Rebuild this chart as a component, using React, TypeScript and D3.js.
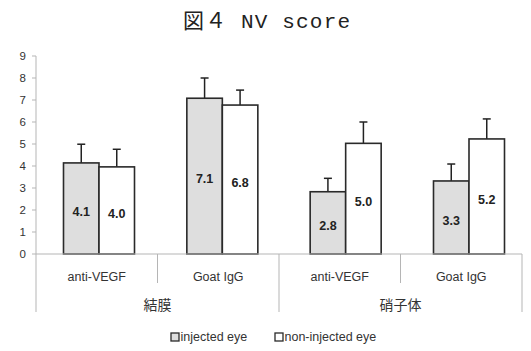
import React from "react";
import * as d3 from "d3";

const subCategories = ["anti-VEGF", "Goat IgG", "anti-VEGF", "Goat IgG"];
const groups = ["結膜", "硝子体"];
const series = ["injected eye", "non-injected eye"];
const injected = [4.14, 7.08, 2.83, 3.32];
const nonInjected = [3.96, 6.77, 5.03, 5.23];
const injectedErr = [0.85, 0.92, 0.61, 0.77];
const nonInjectedErr = [0.8, 0.68, 0.97, 0.91];
const yTicks = [0, 1, 2, 3, 4, 5, 6, 7, 8, 9];

const W = 531;
const H = 351;
const FONT = "'Liberation Sans', Arial, sans-serif";

export default function App() {
  const y = d3.scaleLinear().domain([0, 9]).range([254, 56]);
  const xAxis = d3.scaleBand<number>().domain([0, 1, 2, 3]).range([36, 522]);
  const xBars = d3.scalePoint<number>().domain([0, 1, 2, 3]).range([99, 469]);
  const barW = 35.5;
  const fmt = d3.format(".1f");
  const fills = ["#dedede", "#ffffff"];
  const seriesVals = [injected, nonInjected];
  const seriesErr = [injectedErr, nonInjectedErr];

  return (
    <svg width={W} height={H} style={{ position: "absolute", left: 0, top: 0 }}>
      <rect width={W} height={H} fill="#fff" />
      <text
        x={183}
        y={28}
        textLength={167}
        lengthAdjust="spacing"
        fontSize={21}
        fontFamily="'Liberation Mono', 'Noto Sans CJK JP', monospace"
        fill="#222"
      >
        図４ NV score
      </text>
      {/* y axis */}
      <line x1={36} x2={36} y1={y(9)} y2={y(0)} stroke="#b5b5b5" strokeWidth={1} />
      {yTicks.map((t) => (
        <g key={t}>
          <line x1={32} x2={36} y1={y(t)} y2={y(t)} stroke="#b5b5b5" />
          <text
            x={26}
            y={y(t)}
            dy="0.35em"
            textAnchor="end"
            fontSize={11.5}
            fontFamily={FONT}
            fill="#333"
          >
            {t}
          </text>
        </g>
      ))}
      {/* bars */}
      {subCategories.map((c, i) => {
        const cx = xBars(i)!;
        return (
          <g key={i}>
            {series.map((s, k) => {
              const v = seriesVals[k][i];
              const e = seriesErr[k][i];
              const x0 = k === 0 ? cx - barW : cx;
              const bx = x0 + barW / 2;
              return (
                <g key={k}>
                  <line x1={bx} x2={bx} y1={y(v)} y2={y(v + e)} stroke="#222" strokeWidth={1.5} />
                  <line x1={bx - 4} x2={bx + 4} y1={y(v + e)} y2={y(v + e)} stroke="#222" strokeWidth={1.5} />
                  <rect
                    x={x0}
                    y={y(v)}
                    width={barW}
                    height={y(0) - y(v)}
                    fill={fills[k]}
                    stroke="#2a2a2a"
                    strokeWidth={1.6}
                  />
                  <text
                    x={bx}
                    y={(y(v) + y(0)) / 2 + 3}
                    dy="0.35em"
                    textAnchor="middle"
                    fontSize={12.5}
                    fontWeight="bold"
                    fontFamily={FONT}
                    fill="#222"
                  >
                    {fmt(v)}
                  </text>
                </g>
              );
            })}
          </g>
        );
      })}
      {/* x axis */}
      <line x1={36} x2={522} y1={y(0)} y2={y(0)} stroke="#b5b5b5" />
      {[0, 1, 2, 3, 4].map((j) => {
        const x = j < 4 ? xAxis(j)! : xAxis(3)! + xAxis.bandwidth();
        const major = j % 2 === 0;
        return (
          <line
            key={j}
            x1={x}
            x2={x}
            y1={y(0)}
            y2={major ? 312 : 283}
            stroke="#b5b5b5"
          />
        );
      })}
      {subCategories.map((c, i) => (
        <text
          key={i}
          x={xAxis(i)! + xAxis.bandwidth() / 2}
          y={277}
          dy="0.35em"
          textAnchor="middle"
          fontSize={12.5}
          fontFamily={FONT}
          fill="#333"
        >
          {c}
        </text>
      ))}
      {groups.map((g, i) => (
        <text
          key={g}
          x={xAxis(i * 2)! + xAxis.bandwidth()}
          y={305}
          dy="0.35em"
          textAnchor="middle"
          fontSize={14}
          fontFamily="'Noto Sans CJK JP', sans-serif"
          fill="#333"
        >
          {g}
        </text>
      ))}
      {/* legend */}
      {series.map((s, k) => {
        const lx = k === 0 ? 171 : 275;
        return (
          <g key={s}>
            <rect x={lx} y={333} width={8} height={8} fill={fills[k]} stroke="#2a2a2a" strokeWidth={1.3} />
            <text x={lx + 9.5} y={337} dy="0.35em" fontSize={12.5} fontFamily={FONT} fill="#333">
              {s}
            </text>
          </g>
        );
      })}
    </svg>
  );
}
